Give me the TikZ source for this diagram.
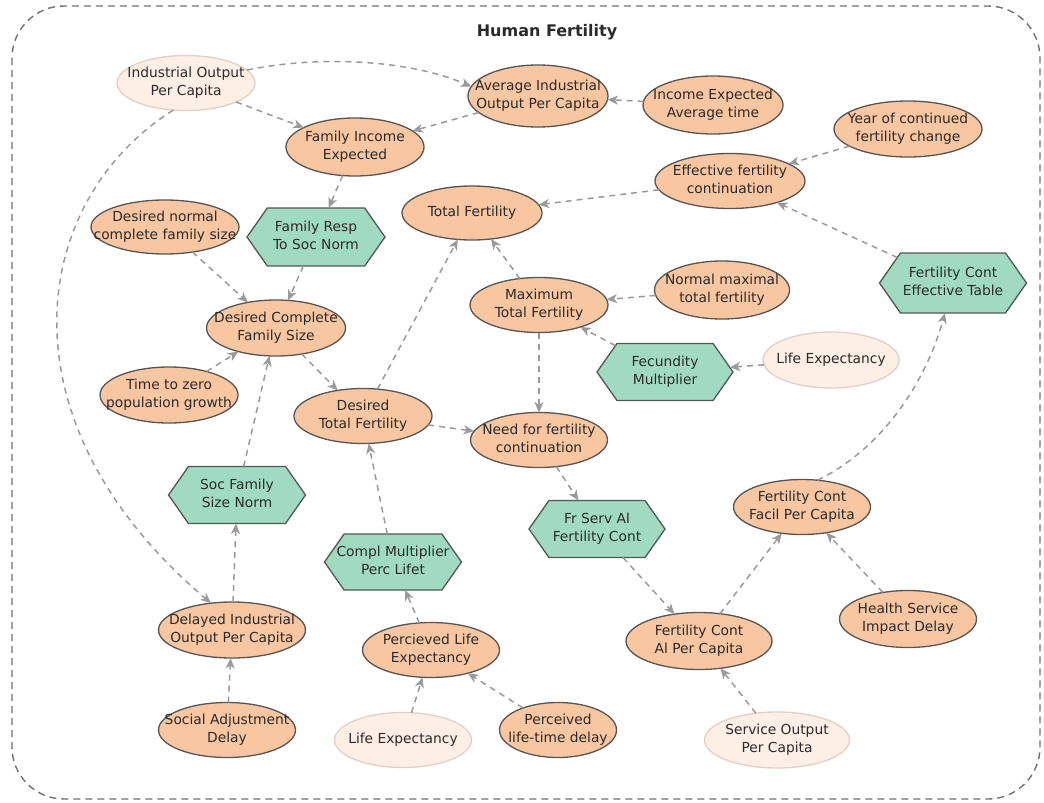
\documentclass[tikz,border=0pt]{standalone}
\usepackage{fontspec}
\setmainfont{DejaVu Sans}
\usetikzlibrary{arrows.meta,shapes.symbols,shapes.geometric}
\definecolor{peach}{HTML}{F8C6A0}
\definecolor{mint}{HTML}{A0DAC3}
\definecolor{palefill}{HTML}{FDEEE6}
\definecolor{paleline}{HTML}{E2CFC5}
\definecolor{darkline}{HTML}{555555}
\definecolor{edgec}{HTML}{9A9A9A}
\definecolor{framec}{HTML}{707070}
\definecolor{txt}{HTML}{2A2A2A}
\newcommand\boxtxt[1]{\makebox[0pt]{\begin{tabular}{@{}c@{}}#1\end{tabular}}}
\tikzset{
  sz/.style 2 args={minimum width=#1, minimum height=#2},
  base/.style={inner sep=0pt, outer sep=0pt, line width=1.3pt, font=\fontsize{13.8}{18}\selectfont, text=txt},
  var/.style={base, ellipse, draw=darkline, fill=peach},
  pale/.style={base, ellipse, draw=paleline, fill=palefill},
  hexa/.style={base, signal, signal to=east and west, signal pointer angle=110, draw=darkline, fill=mint},
  arr/.style={draw=edgec, line width=1.5pt, dash pattern=on 6pt off 5pt, -{Stealth[length=10.5pt,width=9pt,inset=3pt]}, fill=none},
}
\begin{document}
\begin{tikzpicture}[x=1pt,y=-1pt]
\useasboundingbox (0,0) rectangle (1044,803);
\draw[framec, line width=1.4pt, dash pattern=on 7pt off 5pt, rounded corners=52pt] (12,6) rectangle (1040,799);
\node[font=\fontsize{16}{20}\selectfont\bfseries, text=txt] (title) at (547,32) {Human Fertility};

\node[pale, sz={138}{55}] (iopc) at (186,83) {\boxtxt{Industrial Output\\Per Capita}};
\node[var, sz={140}{62}] (aiopc) at (538,96) {\boxtxt{Average Industrial\\Output Per Capita}};
\node[var, sz={140}{58}] (ieat) at (713,105) {\boxtxt{Income Expected\\Average time}};
\node[var, sz={138}{58}] (fie) at (355,147) {\boxtxt{Family Income\\Expected}};
\node[var, sz={148}{56}] (ycfc) at (908,129) {\boxtxt{Year of continued\\fertility change}};
\node[var, sz={150}{55}] (efc) at (730,181) {\boxtxt{Effective fertility\\continuation}};
\node[var, sz={140}{54}] (tf) at (472,213) {\boxtxt{Total Fertility}};
\node[var, sz={148}{54}] (dncfs) at (165,227) {\boxtxt{Desired normal\\complete family size}};
\node[hexa, sz={138}{58}] (frsn) at (316,237) {\boxtxt{Family Resp\\To Soc Norm}};
\node[hexa, sz={147}{60}] (fcet) at (953,283) {\boxtxt{Fertility Cont\\Effective Table}};
\node[var, sz={135}{58}] (nmtf) at (722,290) {\boxtxt{Normal maximal\\total fertility}};
\node[var, sz={138}{55}] (mtf) at (539,305) {\boxtxt{Maximum\\Total Fertility}};
\node[var, sz={139}{56}] (dcfs) at (276,328) {\boxtxt{Desired Complete\\Family Size}};
\node[hexa, sz={136}{57}] (fm) at (665,372) {\boxtxt{Fecundity\\Multiplier}};
\node[pale, sz={136}{56}] (le1) at (831,360) {\boxtxt{Life Expectancy}};
\node[var, sz={138}{56}] (tzpg) at (169,395) {\boxtxt{Time to zero\\population growth}};
\node[var, sz={138}{55}] (dtf) at (363,416) {\boxtxt{Desired\\Total Fertility}};
\node[var, sz={137}{55}] (nfc) at (539,440) {\boxtxt{Need for fertility\\continuation}};
\node[hexa, sz={137}{57}] (sfsn) at (237,495) {\boxtxt{Soc Family\\Size Norm}};
\node[var, sz={137}{55}] (fcfpc) at (802,507) {\boxtxt{Fertility Cont\\Facil Per Capita}};
\node[hexa, sz={136}{57}] (fsafc) at (597,529) {\boxtxt{Fr Serv Al\\Fertility Cont}};
\node[hexa, sz={137}{56}] (cmpl) at (393,562) {\boxtxt{Compl Multiplier\\Perc Lifet}};
\node[var, sz={147}{56}] (diopc) at (232,630) {\boxtxt{Delayed Industrial\\Output Per Capita}};
\node[var, sz={137}{57}] (hsid) at (908,619) {\boxtxt{Health Service\\Impact Delay}};
\node[var, sz={146}{57}] (fcapc) at (699,641) {\boxtxt{Fertility Cont\\Al Per Capita}};
\node[var, sz={137}{55}] (ple) at (431,650) {\boxtxt{Percieved Life\\Expectancy}};
\node[var, sz={137}{55}] (sad) at (227,730) {\boxtxt{Social Adjustment\\Delay}};
\node[pale, sz={137}{55}] (le2) at (403,740) {\boxtxt{Life Expectancy}};
\node[var, sz={117}{55}] (pltd) at (558,730) {\boxtxt{Perceived\\life-time delay}};
\node[pale, sz={145}{56}] (sopc) at (777,740) {\boxtxt{Service Output\\Per Capita}};

\draw[arr] (iopc.12) .. controls (320,55) and (410,60) .. (aiopc.172);
\draw[arr] (iopc) -- (fie);
\draw[arr] (aiopc) -- (fie);
\draw[arr] (ieat) -- (aiopc);
\draw[arr] (ycfc) -- (efc);
\draw[arr] (efc) -- (tf);
\draw[arr] (fcet) -- (efc);
\draw[arr] (fie) -- (frsn);
\draw[arr] (dncfs) -- (dcfs);
\draw[arr] (frsn) -- (dcfs);
\draw[arr] (tzpg) -- (dcfs);
\draw[arr] (dcfs) -- (dtf);
\draw[arr] (dtf) -- (tf);
\draw[arr] (mtf) -- (tf);
\draw[arr] (nmtf) -- (mtf);
\draw[arr] (fm) -- (mtf);
\draw[arr] (le1) -- (fm);
\draw[arr] (mtf) -- (nfc);
\draw[arr] (dtf) -- (nfc);
\draw[arr] (nfc) -- (fsafc);
\draw[arr] (sfsn) -- (dcfs);
\draw[arr] (diopc) -- (sfsn);
\draw[arr] (iopc.245) .. controls (30,200) and (-5,420) .. (diopc.128);
\draw[arr] (sad) -- (diopc);
\draw[arr] (cmpl) -- (dtf);
\draw[arr] (ple) -- (cmpl);
\draw[arr] (le2) -- (ple);
\draw[arr] (pltd) -- (ple);
\draw[arr] (fsafc) -- (fcapc);
\draw[arr] (fcapc) -- (fcfpc);
\draw[arr] (hsid) -- (fcfpc);
\draw[arr] (sopc) -- (fcapc);
\draw[arr] (fcfpc.60) .. controls (880,450) and (925,385) .. (fcet.255);
\end{tikzpicture}
\end{document}
